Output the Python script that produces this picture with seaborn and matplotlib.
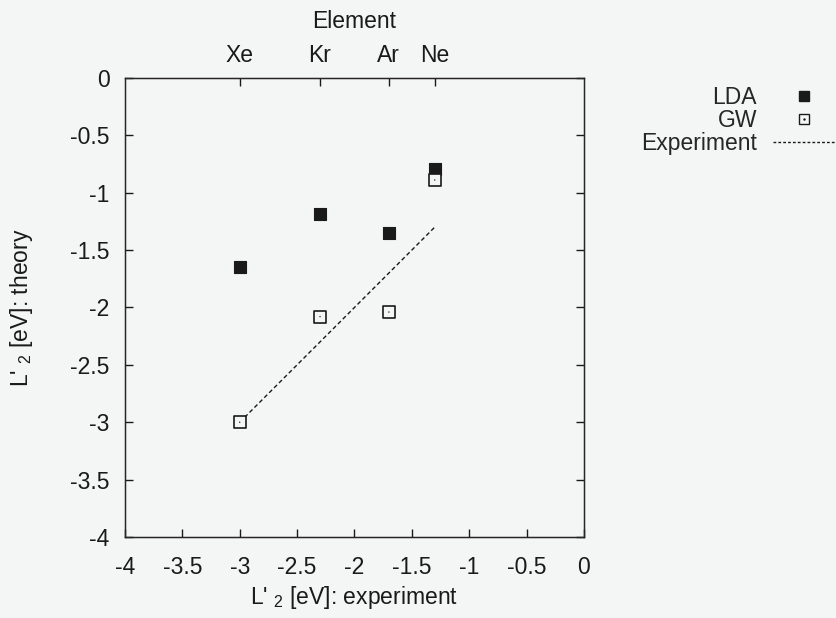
import matplotlib
matplotlib.use("Agg")
import matplotlib.pyplot as plt
import seaborn as sns
import pandas as pd
from matplotlib.lines import Line2D

# L'2 band energies for the rare-gas solids (eV)
elements = ["Xe", "Kr", "Ar", "Ne"]
experiment = [-3.0, -2.3, -1.7, -1.3]
lda = [-1.65, -1.19, -1.35, -0.79]
gw = [-3.0, -2.08, -2.04, -0.89]

ticks = [-4, -3.5, -3, -2.5, -2, -1.5, -1, -0.5, 0]
tick_labels = ["-4", "-3.5", "-3", "-2.5", "-2", "-1.5", "-1", "-0.5", "0"]

sns.set_style("ticks")
plt.rcParams["font.family"] = ["Liberation Sans", "DejaVu Sans"]
plt.rcParams["mathtext.fontset"] = "custom"
plt.rcParams["mathtext.rm"] = "Liberation Sans"
plt.rcParams["mathtext.it"] = "Liberation Sans"

bg = "#f4f5f5"
ink = "#1a1a1a"
fs = 16.5

df = pd.DataFrame({"element": elements, "experiment": experiment,
                   "LDA": lda, "GW": gw})

fig = plt.figure(figsize=(8.36, 6.18), dpi=100, facecolor=bg)
ax = fig.add_axes([0.1495, 0.131, 0.549, 0.743])
ax.set_facecolor(bg)

# Experiment: theory equals experiment
sns.lineplot(data=df, x="experiment", y="experiment", ax=ax, color=ink,
             linestyle=(0, (3, 2)), linewidth=1.0, legend=False)
sns.scatterplot(data=df, x="experiment", y="LDA", ax=ax, marker="s", s=85,
                color=ink, edgecolor=ink, linewidth=0.8, legend=False, zorder=3)
sns.scatterplot(data=df, x="experiment", y="GW", ax=ax, marker="s", s=85,
                facecolor=bg, edgecolor=ink, linewidth=1.2, legend=False, zorder=4)
sns.scatterplot(data=df, x="experiment", y="GW", ax=ax, marker=".", s=4,
                color=ink, edgecolor="none", legend=False, zorder=5)

ax.set_xlim(-4, 0)
ax.set_ylim(-4, 0)
ax.set_xticks(ticks)
ax.set_xticklabels(tick_labels)
ax.set_yticks(ticks)
ax.set_yticklabels(tick_labels)
ax.tick_params(axis="both", direction="in", length=6, width=1, colors=ink,
               labelsize=fs)
ax.tick_params(axis="x", pad=13.5)
ax.tick_params(axis="y", right=True, pad=11)
for sp in ax.spines.values():
    sp.set_visible(True)
    sp.set_color(ink)
    sp.set_linewidth(1.0)

ax.set_xlabel("L' $_2$ [eV]: experiment", fontsize=fs, color=ink, labelpad=4)
ax.set_ylabel("L' $_2$ [eV]: theory", fontsize=fs, color=ink, labelpad=25)

top = ax.twiny()
top.set_xlim(ax.get_xlim())
top.set_xticks(experiment)
top.set_xticklabels(elements)
top.tick_params(axis="x", direction="in", length=6, width=1, colors=ink,
                labelsize=fs, pad=8)
top.set_xlabel("Element", fontsize=fs, color=ink, labelpad=11)

handles = [
    Line2D([], [], marker="s", markersize=7, color=ink, linestyle="none"),
    (Line2D([], [], marker="s", markersize=7, markerfacecolor=bg,
            markeredgecolor=ink, markeredgewidth=1.0, linestyle="none"),
     Line2D([], [], marker=".", markersize=1.5, color=ink, linestyle="none")),
    Line2D([], [], color=ink, linestyle=(0, (2, 1.5)), linewidth=1.0),
]
fig.legend(handles, ["LDA", "GW", "Experiment"], loc="upper right",
           bbox_to_anchor=(1.0, 1 - 86 / 618), frameon=False, fontsize=fs,
           markerfirst=False, handlelength=2.75, handletextpad=0.7,
           labelspacing=0.0, borderaxespad=0, borderpad=0)

fig.savefig("out.png", dpi=100, facecolor=bg)
